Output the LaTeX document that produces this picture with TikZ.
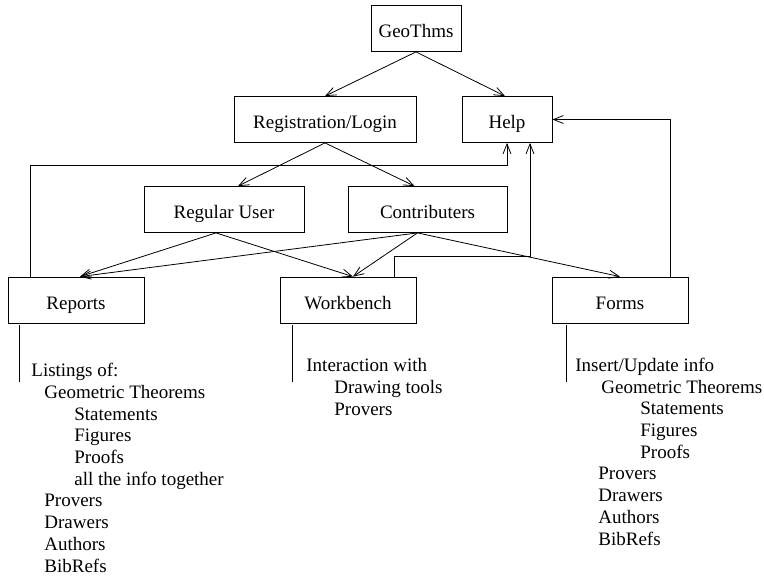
\documentclass[tikz,border=0pt]{standalone}
\usepackage{fontspec}
\setmainfont{Liberation Serif}
\usepackage{tikz}
\usetikzlibrary{arrows.meta}

\begin{document}
\begin{tikzpicture}[x=1pt,y=-1pt,line width=0.8pt,>={Straight Barb[length=10pt,width=8pt]},every node/.style={font=\fontsize{19}{21.7}\selectfont},box/.style={draw,minimum height=46pt,inner sep=0pt,text height=18pt,text depth=0pt},list/.style={align=left,anchor=base west,inner sep=0pt}]
	
	\useasboundingbox (0,0) rectangle (764,578);
	
	\node[box,minimum width=90pt] (geo) at (416,28.5) {GeoThms};
	\node[box,minimum width=182pt] (reg) at (325,119.5) {Registration/Login};
	\node[box,minimum width=90pt] (help) at (507,119.5) {Help};
	\node[box,minimum width=160pt] (user) at (224,209.5) {Regular User};
	\node[box,minimum width=159pt] (contrib) at (427.5,209.5) {Contributers};
	\node[box,minimum width=136pt] (reports) at (76,300) {Reports};
	\node[box,minimum width=136pt] (work) at (348,300) {Workbench};
	\node[box,minimum width=136pt] (forms) at (620,300) {Forms};
	
	\draw[->] (geo.south) -- (reg.north);
	\draw[->] (geo.south) -- ([xshift=-2pt]help.north);
	\draw[->] (reg.south) -- ([xshift=14pt]user.north);
	\draw[->] (reg.south) -- ([xshift=-13pt]contrib.north);
	\draw[->] ([xshift=-8pt]user.south) -- ([xshift=4pt]reports.north);
	\draw[->] ([xshift=-8pt]user.south) -- ([xshift=5pt]work.north);
	\draw[->] ([xshift=-10pt]contrib.south) -- ([xshift=4pt]reports.north);
	\draw[->] ([xshift=-10pt]contrib.south) -- ([xshift=5pt]work.north);
	\draw[->] ([xshift=-10pt]contrib.south) -- (forms.north);
	\draw[->] ([xshift=-46pt]reports.north) |- ([yshift=-22pt]help.south) -- (help.south);
	\draw[->] ([xshift=46pt]work.north) |- ([xshift=23pt,yshift=-113pt]help.south) -- ([xshift=23pt]help.south);
	\draw[->] ([xshift=50pt]forms.north) |- (help.east);
	
	\draw ([xshift=12pt,yshift=-2pt]reports.south west) -- ++(0,57);
	\draw ([xshift=13pt,yshift=-2pt]work.south west) -- ++(0,57);
	\draw ([xshift=15pt,yshift=-2pt]forms.south west) -- ++(0,57);
	
	\node[list] (replist) at (31,572) {Listings of:\\
		\hspace*{13pt}Geometric Theorems\\
		\hspace*{43pt}Statements\\
		\hspace*{43pt}Figures\\
		\hspace*{43pt}Proofs\\
		\hspace*{43pt}all the info together\\
		\hspace*{13pt}Provers\\
		\hspace*{13pt}Drawers\\
		\hspace*{13pt}Authors\\
		\hspace*{13pt}BibRefs};
	\node[list] (worklist) at (306,415) {Interaction with\\
		\hspace*{28pt}Drawing tools\\
		\hspace*{28pt}Provers};
	\node[list] (formlist) at (575,545) {Insert/Update info\\
		\hspace*{26pt}Geometric Theorems\\
		\hspace*{65pt}Statements\\
		\hspace*{65pt}Figures\\
		\hspace*{65pt}Proofs\\
		\hspace*{23pt}Provers\\
		\hspace*{23pt}Drawers\\
		\hspace*{23pt}Authors\\
		\hspace*{23pt}BibRefs};
	
\end{tikzpicture}
\end{document}
